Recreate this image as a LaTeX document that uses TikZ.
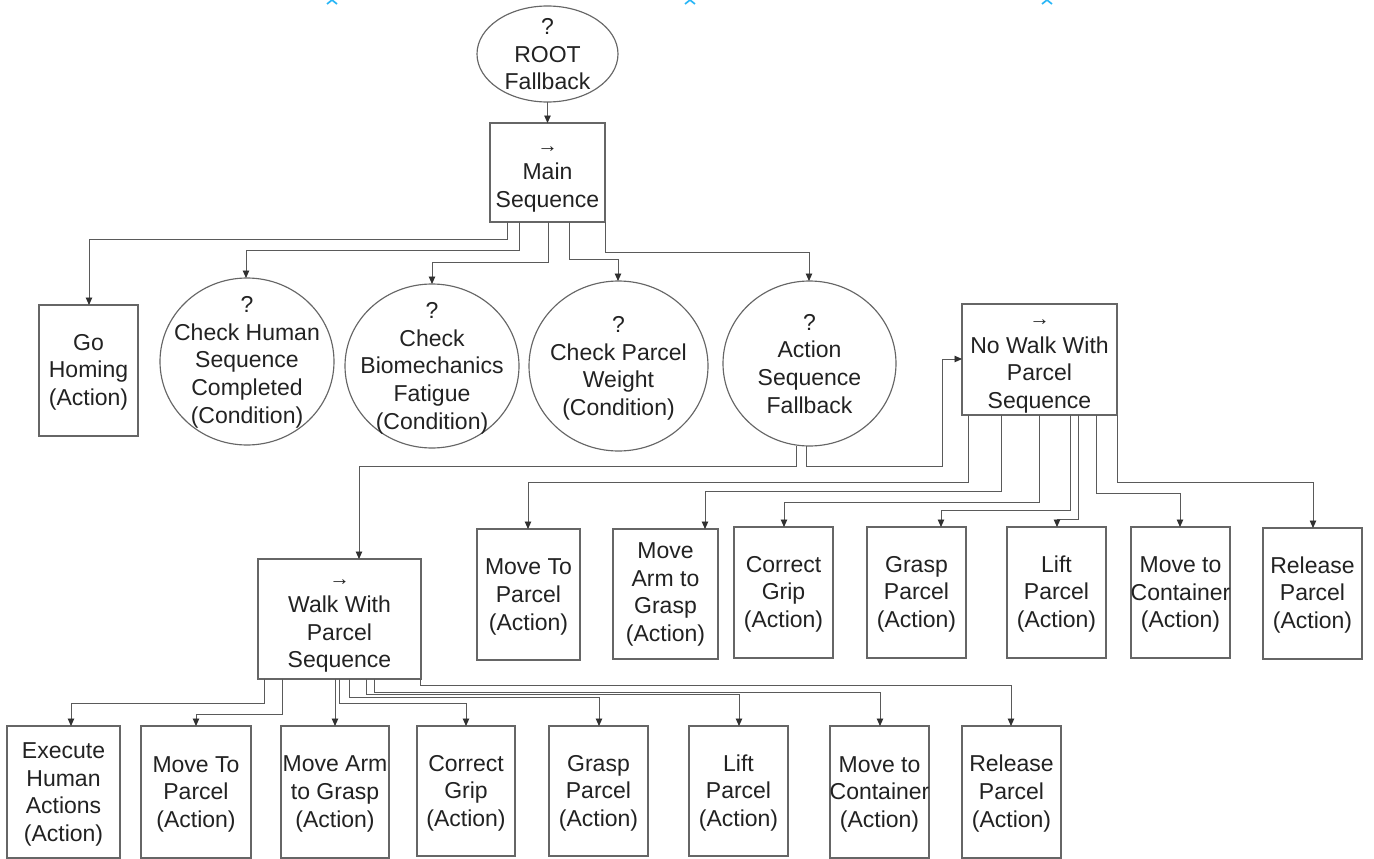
\documentclass[tikz,border=0pt]{standalone}
\usepackage{fontspec}
\setmainfont{Liberation Sans}
\usetikzlibrary{shapes.geometric,arrows.meta}
\definecolor{edgec}{HTML}{666666}
\definecolor{linec}{HTML}{5A5A5A}
\definecolor{tipc}{HTML}{303030}
\definecolor{txtc}{HTML}{222222}
\definecolor{markc}{HTML}{29B6F6}
\tikzset{
  shapebase/.style={draw=edgec,line width=1.15pt,fill=white,text=txtc,align=center,inner sep=-12pt,outer sep=0pt,
    font=\fontsize{23}{27.6}\selectfont},
  boxn/.style={shapebase,rectangle},
  circn/.style={shapebase,ellipse},
  conn/.style={draw=linec,line width=0.9pt,-{Stealth[length=7.5pt,width=6.5pt,inset=0pt,color=tipc]}},
  tick/.style={draw=markc,line width=1.7pt}
}
% [text shift down], name, x1, y1, x2, y2, text
\newcommand\pad[1]{\rule{0pt}{\dimexpr16.7pt+#1pt+#1pt\relax}}
\newcommand\seqarrow{{\fontsize{20.5}{20.5}\selectfont →}}
\newcommand\bx[7][0]{\node[boxn,minimum width={#5-#3},minimum height={#6-#4}] (#2) at ({(#3+#5)/2},{(#4+#6)/2}) {\pad{#1}#7};}
\newcommand\el[7][0]{\node[circn,minimum width={#5-#3},minimum height={#6-#4}] (#2) at ({(#3+#5)/2},{(#4+#6)/2}) {\pad{#1}#7};}
% from, start x, turn y, to, end x
\newcommand\cn[5]{\draw[conn] (#2,0 |- #1.south) -- (#2,#3) -- (#5,#3) -- (#5,0 |- #4.north);}
\begin{document}
\begin{tikzpicture}[x=1pt,y=-1pt]
\useasboundingbox (0,0) rectangle (1374,859);
\foreach \mx in {332,690,1047}{
  \draw[tick] (\mx-5,4) -- (\mx,0) -- (\mx+5,4);
}
\el{root}{477}{6}{618}{102}{?\\ROOT\\Fallback}
\bx[1.5]{main}{490}{123}{605}{222}{\seqarrow\\Main\\Sequence}
\bx[1.5]{home}{39}{305}{138}{436}{Go\\Homing\\(Action)}
\el[0.5]{human}{160}{278}{334}{445}{?\\Check Human\\Sequence\\Completed\\(Condition)}
\el[2]{bio}{345}{284}{519}{448}{?\\Check\\Biomechanics\\Fatigue\\(Condition)}
\el[2]{weight}{529}{281}{708}{451}{?\\Check Parcel\\Weight\\(Condition)}
\el{act}{723}{281}{896}{446}{?\\Action\\Sequence\\Fallback}
\bx[1.5]{nowalk}{962}{304}{1117}{415}{\seqarrow\\No Walk With\\Parcel\\Sequence}
\bx[1.5]{walk}{258}{559}{421}{679}{\seqarrow\\Walk With\\Parcel\\Sequence}
\bx[2]{a1}{477}{529}{580}{660}{Move To\\Parcel\\(Action)}
\bx[0.2]{a2}{613}{529}{718}{659}{Move\\Arm to\\Grasp\\(Action)}
\bx[1.5]{a3}{734}{527}{833}{658}{Correct\\Grip\\(Action)}
\bx[1.5]{a4}{867}{527}{966}{658}{Grasp\\Parcel\\(Action)}
\bx[1.5]{a5}{1007}{527}{1106}{658}{Lift\\Parcel\\(Action)}
\bx[1.8]{a6}{1131}{527}{1230}{658}{Move to\\Container\\(Action)}
\bx[1.5]{a7}{1263}{528}{1362}{659}{Release\\Parcel\\(Action)}
\bx[2]{b1}{7}{726}{120}{858}{Execute\\Human\\Actions\\(Action)}
\bx[2]{b2}{141}{726}{251}{858}{Move To\\Parcel\\(Action)}
\bx[1.5]{b3}{281}{726}{389}{858}{Move Arm\\to Grasp\\(Action)}
\bx[2]{b4}{417}{726}{515}{856}{Correct\\Grip\\(Action)}
\bx[2]{b5}{549}{726}{648}{856}{Grasp\\Parcel\\(Action)}
\bx[2]{b6}{689}{726}{788}{856}{Lift\\Parcel\\(Action)}
\bx[2]{b7}{830}{726}{929}{858}{Move to\\Container\\(Action)}
\bx[1.5]{b8}{962}{726}{1061}{858}{Release\\Parcel\\(Action)}
\draw[conn] (root) -- (main);
\cn{main}{507}{239}{home}{89}
\cn{main}{519}{250}{human}{246}
\cn{main}{548}{262}{bio}{432}
\cn{main}{569}{259}{weight}{618}
\cn{main}{605}{252}{act}{809}
\draw[conn] (796,0 |- act.south) -- (796,466) -- (359,466) -- (359,0 |- walk.north);
\draw[conn] (806,0 |- act.south) -- (806,466) -- (942,466) -- (942,359) -- (nowalk.west |- 0,359);
\cn{nowalk}{968}{482}{a1}{528}
\cn{nowalk}{1001}{491}{a2}{705}
\cn{nowalk}{1039}{502}{a3}{784}
\cn{nowalk}{1070}{510}{a4}{941}
\cn{nowalk}{1078}{519}{a5}{1057}
\cn{nowalk}{1096}{493}{a6}{1180}
\cn{nowalk}{1117}{482}{a7}{1313}
\cn{walk}{264}{703}{b1}{71}
\cn{walk}{282}{714}{b2}{196}
\draw[conn] (335,0 |- walk.south) -- (335,0 |- b3.north);
\cn{walk}{339}{703}{b4}{466}
\cn{walk}{349}{697}{b5}{599}
\cn{walk}{366}{694}{b6}{739}
\cn{walk}{374}{692}{b7}{880}
\cn{walk}{420}{685}{b8}{1011}
\end{tikzpicture}
\end{document}
